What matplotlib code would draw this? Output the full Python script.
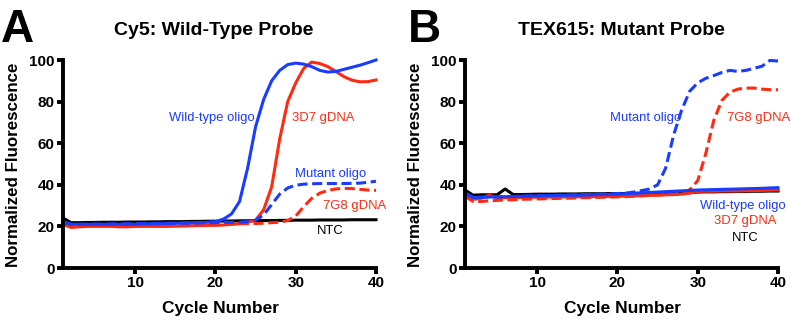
import matplotlib
matplotlib.use("Agg")
import matplotlib.pyplot as plt

plt.rcParams['font.family'] = ['Liberation Sans', 'DejaVu Sans']

BLUE = '#1a3cff'
RED = '#ff2a12'

cycles = list(range(1, 41))

# panel A - Cy5 wild-type probe
a_ntc = [24.0, 21.8, 21.8, 21.9, 21.9, 22.0, 22.0, 22.0, 22.1, 22.1,
         22.1, 22.2, 22.2, 22.3, 22.3, 22.3, 22.4, 22.4, 22.5, 22.5,
         22.6, 22.6, 22.7, 22.7, 22.8, 22.8, 22.8, 22.9, 22.9, 23.0,
         23.0, 23.0, 23.1, 23.1, 23.1, 23.1, 23.2, 23.2, 23.2, 23.2]
a_wt_oligo = [22.5, 21.0, 21.0, 21.0, 21.0, 21.0, 21.0, 21.0, 21.0, 21.0,
              21.2, 21.2, 21.3, 21.4, 21.5, 21.6, 21.7, 21.8, 22.0, 22.3,
              23.5, 26.0, 32.0, 48.0, 68.0, 81.0, 90.0, 95.0, 97.8, 98.5,
              98.0, 96.8, 95.0, 94.2, 94.5, 95.5, 96.5, 97.5, 98.7, 100.0]
a_3d7 = [21.0, 19.5, 19.8, 20.0, 20.0, 20.0, 20.0, 19.8, 19.8, 20.0,
         20.0, 20.0, 20.0, 20.0, 20.1, 20.2, 20.3, 20.4, 20.5, 20.5,
         20.7, 21.0, 21.3, 22.0, 23.0, 28.0, 39.0, 62.0, 80.0, 89.0,
         96.0, 99.0, 98.3, 96.8, 94.5, 92.0, 90.3, 89.5, 89.6, 90.4]
a_mut_oligo = [22.0, 21.0, 21.0, 21.0, 21.1, 21.1, 21.2, 21.2, 21.3, 21.3,
               21.4, 21.4, 21.5, 21.5, 21.6, 21.6, 21.7, 21.7, 21.8, 21.8,
               22.0, 22.0, 22.0, 22.3, 23.0, 25.5, 30.5, 35.5, 38.5, 39.8,
               40.3, 40.5, 40.6, 40.6, 40.6, 40.6, 40.7, 40.8, 41.2, 41.7]
a_7g8 = [21.0, 20.3, 20.3, 20.4, 20.4, 20.5, 20.5, 20.5, 20.6, 20.6,
         20.7, 20.7, 20.8, 20.8, 20.9, 20.9, 21.0, 21.0, 21.1, 21.1,
         21.2, 21.2, 21.3, 21.3, 21.4, 21.5, 21.8, 22.0, 22.8, 25.0,
         29.5, 33.5, 36.0, 37.3, 38.0, 38.3, 38.2, 37.8, 37.5, 37.3]

# panel B - TEX615 mutant probe
b_ntc = [37.5, 35.0, 35.2, 35.2, 35.2, 38.0, 35.3, 35.3, 35.4, 35.5,
         35.5, 35.5, 35.6, 35.6, 35.6, 35.7, 35.7, 35.7, 35.8, 35.8,
         35.8, 35.9, 35.9, 36.0, 36.0, 36.0, 36.1, 36.1, 36.2, 36.5,
         36.6, 36.6, 36.7, 36.7, 36.8, 36.8, 36.9, 36.9, 37.0, 37.0]
b_wt_oligo = [36.0, 33.8, 34.0, 34.1, 34.2, 34.3, 34.4, 34.5, 34.6, 34.7,
              34.8, 34.8, 34.9, 35.0, 35.0, 35.1, 35.2, 35.3, 35.4, 35.5,
              35.7, 35.9, 36.1, 36.3, 36.5, 36.7, 36.9, 37.1, 37.3, 37.5,
              37.6, 37.7, 37.8, 37.9, 38.0, 38.1, 38.2, 38.3, 38.5, 38.6]
b_3d7 = [35.0, 33.0, 33.5, 35.0, 33.8, 33.8, 33.9, 33.9, 34.0, 34.0,
         34.0, 34.1, 34.1, 34.2, 34.2, 34.3, 34.3, 34.4, 34.4, 34.5,
         34.6, 34.7, 34.8, 34.9, 35.0, 35.2, 35.3, 35.5, 36.0, 36.8,
         36.9, 36.9, 37.0, 37.0, 37.0, 37.1, 37.2, 37.3, 37.4, 37.5]
b_mut_oligo = [36.0, 34.0, 34.0, 34.2, 34.2, 34.3, 34.4, 34.5, 34.6, 34.7,
               34.8, 34.9, 35.0, 35.1, 35.2, 35.3, 35.4, 35.5, 35.6, 35.8,
               36.0, 36.5, 37.2, 38.0, 40.0, 48.0, 64.0, 76.0, 85.0, 89.0,
               91.2, 92.5, 94.0, 95.0, 94.5, 95.0, 96.0, 97.0, 99.8, 99.5]
b_7g8 = [34.5, 32.0, 32.0, 32.3, 32.5, 32.7, 32.8, 33.0, 33.1, 33.2,
         33.3, 33.4, 33.5, 33.6, 33.7, 33.8, 33.9, 34.0, 34.1, 34.2,
         34.3, 34.5, 34.7, 34.9, 35.1, 35.3, 35.5, 36.0, 37.6, 42.0,
         55.0, 71.0, 80.5, 84.5, 86.0, 86.5, 86.5, 86.0, 85.7, 85.7]

yticks = [0, 20, 40, 60, 80, 100]
xticks = [10, 20, 30, 40]

fig = plt.figure(figsize=(7.91, 3.2), dpi=100)
axA = fig.add_axes([63/791, 1-268/320, 313/791, 208/320])
axB = fig.add_axes([465/791, 1-268/320, 313/791, 208/320])

lw = 2.2
dash = (3.3, 1.5)
fs = 9.4


def style(ax):
    ax.set_xlim(1, 40)
    ax.set_ylim(0, 100)
    ax.set_xticks(xticks)
    ax.set_yticks(yticks)
    for s in ['top', 'right']:
        ax.spines[s].set_visible(False)
    for s in ['left', 'bottom']:
        ax.spines[s].set_linewidth(2.8)
    ax.tick_params(width=2.8, length=4, pad=2, labelsize=11)
    for lab in ax.get_xticklabels() + ax.get_yticklabels():
        lab.set_fontweight('bold')


# A
axA.plot(cycles, a_ntc, color='black', lw=lw, clip_on=False)
axA.plot(cycles, a_7g8, color=RED, lw=lw, dashes=dash, clip_on=False)
axA.plot(cycles, a_3d7, color=RED, lw=lw, clip_on=False)
axA.plot(cycles, a_mut_oligo, color=BLUE, lw=lw, dashes=dash, clip_on=False)
axA.plot(cycles, a_wt_oligo, color=BLUE, lw=lw, clip_on=False)
style(axA)
axA.text(24.9, 72, 'Wild-type oligo', color=BLUE, fontsize=fs, ha='right', va='center')
axA.text(29.5, 72, '3D7 gDNA', color=RED, fontsize=fs, ha='left', va='center')
axA.text(34.3, 45, 'Mutant oligo', color=BLUE, fontsize=fs, ha='center', va='center')
axA.text(37.3, 30, '7G8 gDNA', color=RED, fontsize=fs, ha='center', va='center')
axA.text(34.3, 17.6, 'NTC', color='black', fontsize=fs, ha='center', va='center')

# B
axB.plot(cycles, b_ntc, color='black', lw=lw, clip_on=False)
axB.plot(cycles, b_7g8, color=RED, lw=lw, dashes=dash, clip_on=False)
axB.plot(cycles, b_3d7, color=RED, lw=lw, clip_on=False)
axB.plot(cycles, b_mut_oligo, color=BLUE, lw=lw, dashes=dash, clip_on=False)
axB.plot(cycles, b_wt_oligo, color=BLUE, lw=lw, clip_on=False)
style(axB)
axB.text(27.9, 72, 'Mutant oligo', color=BLUE, fontsize=fs, ha='right', va='center')
axB.text(33.6, 72, '7G8 gDNA', color=RED, fontsize=fs, ha='left', va='center')
axB.text(35.6, 30, 'Wild-type oligo', color=BLUE, fontsize=fs, ha='center', va='center')
axB.text(35.9, 22.4, '3D7 gDNA', color=RED, fontsize=fs, ha='center', va='center')
axB.text(35.9, 14.4, 'NTC', color='black', fontsize=fs, ha='center', va='center')

# titles, panel letters, axis labels
fig.text(214/791, 1-35/320, 'Cy5: Wild-Type Probe', fontsize=14, fontweight='bold', ha='center', va='baseline')
fig.text(621/791, 1-35/320, 'TEX615: Mutant Probe', fontsize=14, fontweight='bold', ha='center', va='baseline')
fig.text(0.001, 1-42/320, 'A', fontsize=33, fontweight='bold', ha='left', va='baseline')
fig.text(408/791, 1-42/320, 'B', fontsize=33, fontweight='bold', ha='left', va='baseline')
fig.text(220/791, 1-313/320, 'Cycle Number', fontsize=12.5, fontweight='bold', ha='center', va='baseline')
fig.text(622/791, 1-313/320, 'Cycle Number', fontsize=12.5, fontweight='bold', ha='center', va='baseline')
fig.text(14/791, 1-165/320, 'Normalized Fluorescence', fontsize=12.2, fontweight='bold', rotation=90, ha='center', va='center')
fig.text(415/791, 1-165/320, 'Normalized Fluorescence', fontsize=12.2, fontweight='bold', rotation=90, ha='center', va='center')

fig.savefig('out.png', dpi=100)
